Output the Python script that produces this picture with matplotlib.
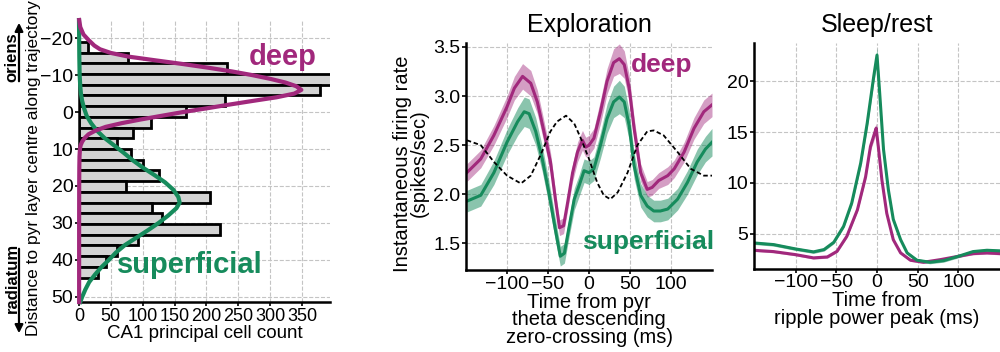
import numpy as np
import matplotlib
matplotlib.use('Agg')
import matplotlib.pyplot as plt

plt.rcParams['font.family'] = ['Liberation Sans', 'DejaVu Sans']

#colores
deep_col = '#a1287c'
sup_col = '#168b5c'
grid_col = '#c4c4c4'

#histograma de profundidad
bin_edges = np.linspace(-19.0, 44.8, 23)
cell_counts = [14, 77, 232, 400, 379, 229, 168, 113, 84, 60, 82, 100, 125, 73, 205, 115, 130, 221, 93, 60, 43, 30]

#curvas ajustadas (deep / superficial)
deep_depth = [-24.9, -23, -21, -19.5, -18, -17, -16, -15, -14, -13, -12, -11, -10, -9, -8, -7, -6, -5, -4, -3, -2, -1,
              0, 1, 2, 3, 4, 5, 6, 7, 8, 9, 10, 12, 15, 20, 30, 51.4]
deep_fit = [0.3, 2, 7, 15, 24, 33, 50, 78, 120, 163, 203, 240, 272, 300, 324, 341, 349, 338, 310, 272, 235, 200,
            163, 130, 97, 67, 42, 26, 15, 9, 5, 2.5, 1.5, 0.8, 0.5, 0.3, 0.2, 0.2]
sup_depth = [-24.9, -15, -10, -7, -5, -3, -1, 1, 3, 5, 7, 9, 11, 13, 15, 17, 19, 21, 23, 24.5, 26, 28, 30, 32, 34, 36,
             38, 40, 42, 44, 46, 48, 50, 51.4]
sup_fit = [0, 0.5, 1, 2, 3, 5, 8, 12, 19, 28, 40, 55, 70, 84, 100, 118, 135, 148, 156, 158, 153, 140, 125, 108, 90, 72,
           58, 47, 35, 25, 16, 10, 5, 2]

#exploracion
t_deep = [-149, -132, -116, -100, -91, -81, -71, -63, -55, -47, -41, -36, -31, -26, -20, -14, -8, -4, 0, 6, 14, 22,
          30, 37, 43, 49, 55, 63, 71, 77, 85, 96, 104, 116, 128, 140, 150]
rate_deep = [2.22, 2.36, 2.60, 2.89, 3.08, 3.20, 3.13, 2.94, 2.64, 2.33, 1.95, 1.66, 1.68, 1.92, 2.22, 2.43, 2.55,
             2.48, 2.50, 2.57, 2.84, 3.15, 3.34, 3.38, 3.32, 3.08, 2.67, 2.22, 2.05, 2.07, 2.14, 2.19, 2.26, 2.43,
             2.67, 2.84, 2.91]
sem_deep = [0.09, 0.09, 0.10, 0.11, 0.12, 0.13, 0.13, 0.12, 0.11, 0.10, 0.09, 0.08, 0.08, 0.08, 0.09, 0.10, 0.10,
            0.10, 0.10, 0.10, 0.12, 0.13, 0.14, 0.15, 0.14, 0.13, 0.11, 0.09, 0.08, 0.08, 0.08, 0.09, 0.09, 0.10,
            0.11, 0.12, 0.12]
t_sup = [-149, -132, -116, -100, -87, -79, -73, -65, -57, -49, -41, -35, -30, -24, -18, -12, -6, 0, 6, 14, 22, 30,
         37, 43, 49, 55, 63, 71, 79, 87, 96, 108, 120, 132, 142, 150]
rate_sup = [1.93, 1.99, 2.22, 2.53, 2.74, 2.84, 2.82, 2.64, 2.36, 2.02, 1.64, 1.37, 1.40, 1.68, 1.95, 2.09, 2.24,
            2.22, 2.26, 2.50, 2.77, 2.94, 2.99, 2.94, 2.70, 2.29, 1.99, 1.88, 1.83, 1.83, 1.85, 1.95, 2.12, 2.33,
            2.46, 2.53]
sem_sup = [0.11, 0.11, 0.12, 0.13, 0.14, 0.15, 0.15, 0.14, 0.13, 0.12, 0.11, 0.10, 0.10, 0.10, 0.11, 0.11, 0.12,
           0.12, 0.12, 0.13, 0.15, 0.16, 0.17, 0.16, 0.15, 0.13, 0.12, 0.11, 0.11, 0.11, 0.11, 0.11, 0.12, 0.13,
           0.13, 0.14]
t_theta = [-149, -132, -116, -100, -83, -71, -59, -47, -39, -28, -18, -10, 0, 10, 18, 26, 35, 47, 59, 71, 79, 91,
           108, 124, 140, 150]
theta_lfp = [2.55, 2.50, 2.33, 2.19, 2.11, 2.19, 2.40, 2.64, 2.74, 2.80, 2.72, 2.57, 2.36, 2.12, 1.99, 1.95, 2.02,
             2.22, 2.50, 2.64, 2.65, 2.60, 2.43, 2.26, 2.19, 2.19]

#sueño / reposo
t_rip_deep = [-151, -127, -100, -78, -61, -49, -37, -24, -14, -8, -3, -1, 2, 6, 12, 20, 29, 41, 57, 78, 100, 118,
              135, 151]
rip_deep = [3.36, 3.23, 2.93, 2.61, 2.70, 3.26, 4.74, 7.36, 10.6, 13.6, 14.9, 15.4, 13.3, 10.3, 7.0, 4.4, 3.1, 2.38,
            2.18, 2.44, 2.77, 3.03, 3.10, 3.03]
t_rip_sup = [-151, -127, -100, -78, -65, -53, -41, -31, -20, -12, -4, 0, 3, 8, 14, 20, 29, 37, 49, 65, 82, 100, 118,
             135, 151]
rip_sup = [4.08, 3.92, 3.49, 3.20, 3.43, 4.15, 5.72, 8.02, 11.96, 15.9, 20.5, 22.6, 19.2, 13.3, 9.3, 6.4, 4.4, 3.1,
           2.38, 2.18, 2.34, 2.77, 3.23, 3.36, 3.30]
rip_sem_deep = [0.12, 0.12, 0.12, 0.12, 0.12, 0.12, 0.15, 0.2, 0.3, 0.4, 0.5, 0.5, 0.4, 0.3, 0.2, 0.15, 0.12, 0.12,
                0.12, 0.12, 0.12, 0.12, 0.12, 0.12]
rip_sem_sup = [0.15, 0.15, 0.15, 0.15, 0.15, 0.15, 0.18, 0.25, 0.35, 0.45, 0.6, 0.7, 0.6, 0.4, 0.25, 0.2, 0.15, 0.15,
               0.15, 0.15, 0.15, 0.15, 0.15, 0.15, 0.15]


def estilo(ax):
    ax.spines['top'].set_visible(False)
    ax.spines['right'].set_visible(False)
    ax.spines['left'].set_linewidth(1.8)
    ax.spines['bottom'].set_linewidth(1.8)
    ax.grid(True, ls='--', color=grid_col, lw=0.8)
    ax.set_axisbelow(True)
    ax.tick_params(direction='out', length=3, width=1.2, labelsize=14, pad=1)


fig = plt.figure(figsize=(10, 3.52), dpi=100)

#panel 1: histograma
ax1 = fig.add_axes([0.079, 0.142, 0.251, 0.801])
centros = (bin_edges[:-1] + bin_edges[1:]) / 2
ancho = bin_edges[1] - bin_edges[0]
ax1.barh(centros, cell_counts, height=ancho, color='#d3d3d3', edgecolor='black', linewidth=2)
ax1.plot(sup_fit, sup_depth, color=sup_col, lw=3, clip_on=False, zorder=4)
ax1.plot(deep_fit, deep_depth, color=deep_col, lw=3, clip_on=False, zorder=5)
ax1.set_xlim(0, 394)
ax1.set_ylim(51.4, -24.9)
ax1.set_xticks(np.arange(0, 351, 50))
ax1.set_yticks(np.arange(-20, 51, 10))
estilo(ax1)
ax1.tick_params(axis='x', labelsize=13)
ax1.set_xlabel('CA1 principal cell count', fontsize=13.5, labelpad=0)
ax1.text(319, -14.9, 'deep', color=deep_col, fontsize=21, fontweight='bold', ha='center', va='center')
ax1.text(174, 41.4, 'superficial', color=sup_col, fontsize=21, fontweight='bold', ha='center', va='center')

fig.text(0.034, 0.523, 'Distance to pyr layer centre along trajectory', rotation=90, fontsize=12.5,
         ha='center', va='center')
fig.text(0.012, 1 - 57 / 352, 'oriens', rotation=90, fontsize=12, fontweight='bold', ha='center', va='center')
fig.text(0.012, 1 - 278 / 352, 'radiatum', rotation=90, fontsize=12, fontweight='bold', ha='center', va='center')
fig.add_artist(matplotlib.patches.FancyArrowPatch((0.019, 1 - 84 / 352), (0.019, 1 - 20 / 352),
                                                  transform=fig.transFigure, arrowstyle='-|>', mutation_scale=12,
                                                  lw=1.6, color='black'))
fig.add_artist(matplotlib.patches.FancyArrowPatch((0.019, 1 - 246 / 352), (0.019, 1 - 336 / 352),
                                                  transform=fig.transFigure, arrowstyle='-|>', mutation_scale=12,
                                                  lw=1.6, color='black'))

#panel 2: exploracion
ax2 = fig.add_axes([0.466, 0.233, 0.246, 0.645])
rd = np.array(rate_deep)
rs = np.array(rate_sup)
ax2.fill_between(t_deep, rd - np.array(sem_deep), rd + np.array(sem_deep), color=deep_col, alpha=0.45, lw=0)
ax2.fill_between(t_sup, rs - np.array(sem_sup), rs + np.array(sem_sup), color=sup_col, alpha=0.5, lw=0)
ax2.plot(t_deep, rate_deep, color=deep_col, lw=2.2)
ax2.plot(t_sup, rate_sup, color=sup_col, lw=2.2)
ax2.plot(t_theta, theta_lfp, color='black', lw=1.3, ls=(0, (2.5, 1.5)))
ax2.set_xlim(-150, 150)
ax2.set_ylim(1.23, 3.54)
ax2.set_xticks([-100, -50, 0, 50, 100])
ax2.set_yticks([1.5, 2.0, 2.5, 3.0, 3.5])
estilo(ax2)
ax2.set_title('Exploration', fontsize=18, pad=8)
ax2.set_ylabel('Instantaneous firing rate\n(spikes/sec)', fontsize=14.5, linespacing=0.9)
ax2.yaxis.set_label_coords(-0.15, 0.47)
ax2.set_xlabel('Time from pyr\ntheta descending\nzero-crossing (ms)', fontsize=14.5, labelpad=0, linespacing=0.9)
ax2.text(88, 3.32, 'deep', color=deep_col, fontsize=19, fontweight='bold', ha='center', va='center')
ax2.text(72, 1.51, 'superficial', color=sup_col, fontsize=19, fontweight='bold', ha='center', va='center')

#panel 3: sueño
ax3 = fig.add_axes([0.754, 0.236, 0.246, 0.642])
pd_ = np.array(rip_deep)
ps_ = np.array(rip_sup)
ax3.fill_between(t_rip_deep, pd_ - np.array(rip_sem_deep), pd_ + np.array(rip_sem_deep), color=deep_col,
                 alpha=0.45, lw=0)
ax3.fill_between(t_rip_sup, ps_ - np.array(rip_sem_sup), ps_ + np.array(rip_sem_sup), color=sup_col, alpha=0.5,
                 lw=0)
ax3.plot(t_rip_deep, rip_deep, color=deep_col, lw=2.2)
ax3.plot(t_rip_sup, rip_sup, color=sup_col, lw=2.2)
ax3.set_xlim(-151, 151)
ax3.set_ylim(1.52, 23.8)
ax3.set_xticks([-100, -50, 0, 50, 100])
ax3.set_yticks([5, 10, 15, 20])
estilo(ax3)
ax3.set_title('Sleep/rest', fontsize=18, pad=8)
ax3.set_xlabel('Time from\nripple power peak (ms)', fontsize=14.5, labelpad=0, linespacing=0.9)

plt.savefig('out.png', dpi=100)
